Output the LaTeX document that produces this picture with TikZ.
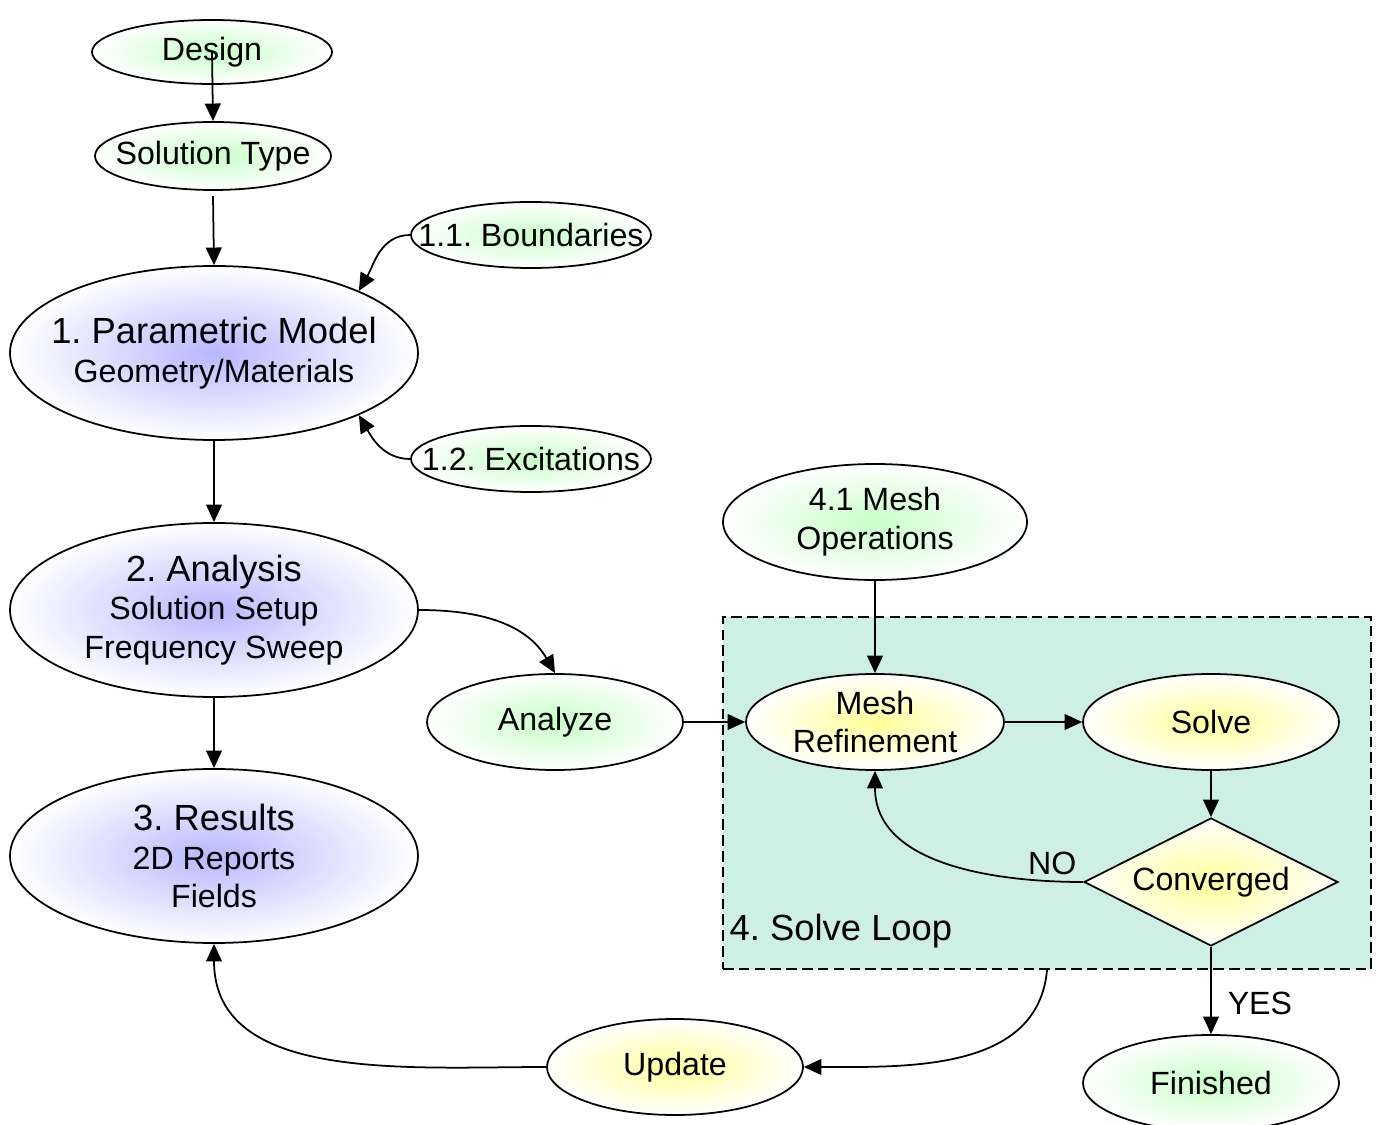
\documentclass[tikz,border=0pt]{standalone}
\usepackage{fontspec}
\setmainfont{Liberation Sans}
\usepackage{xcolor}
\usepackage{tikz}
\usetikzlibrary{shapes,arrows.meta}
\frenchspacing
\definecolor{loopfill}{RGB}{206,240,228}
\tikzset{ell/.style={ellipse,draw,inner xsep=-2cm,inner ysep=-0.6cm,shading=radial,outer color=white,align=center,font=\fontsize{18.3}{22}\selectfont}}
\tikzset{gell/.style={ell,inner color=green!22}}
\tikzset{yell/.style={ell,inner color=yellow!40}}
\tikzset{bell/.style={ell,inner color=blue!28,minimum width=8.16cm,minimum height=3.48cm}}
\tikzset{loopbox/.style={rectangle,draw,dash pattern=on 6pt off 3pt,fill=loopfill,minimum width=12.96cm,minimum height=7.04cm}}
\newcommand{\ttl}[1]{{\fontsize{20.7}{24}\selectfont #1}}

\begin{document}
\begin{tikzpicture}[>={Stealth[inset=0pt,length=10pt,width=9pt]},line width=1pt]
    \useasboundingbox (0,0) rectangle (27.54,22.48);
    \node[loopbox] (loop) at (20.94,6.62) {};
    \node[anchor=west,font=\fontsize{20.7}{24}\selectfont] (looplbl) at (14.46,3.86) {4. Solve Loop};

    \node[gell,minimum width=4.8cm,minimum height=1.28cm] (design) at (4.24,21.44) {Design};
    \node[gell,minimum width=4.72cm,minimum height=1.36cm] (soltype) at (4.26,19.36) {Solution Type};
    \node[gell,minimum width=4.8cm,minimum height=1.32cm] (bnd) at (10.62,17.78) {1.1. Boundaries};
    \node[bell] (pm) at (4.28,15.42) {\ttl{1. Parametric Model}\\Geometry/Materials};
    \node[gell,minimum width=4.8cm,minimum height=1.32cm] (exc) at (10.62,13.3) {1.2. Excitations};
    \node[bell] (ana) at (4.28,10.28) {\ttl{2. Analysis}\\Solution Setup\\Frequency Sweep};
    \node[bell] (res) at (4.28,5.36) {\ttl{3. Results}\\2D Reports\\Fields};

    \node[gell,minimum width=5.12cm,minimum height=1.92cm] (analyze) at (11.1,8.04) {Analyze};
    \node[gell,minimum width=6.08cm,minimum height=2.32cm] (meshop) at (17.5,12.04) {4.1 Mesh\\Operations};
    \node[yell,minimum width=5.16cm,minimum height=1.92cm] (meshref) at (17.5,8.04) {Mesh\\Refinement};
    \node[yell,minimum width=5.12cm,minimum height=1.92cm] (solve) at (24.22,8.04) {Solve};
    \node[yell,diamond,aspect=2,minimum width=5.08cm,minimum height=2.56cm] (conv) at (24.22,4.84) {Converged};
    \node[gell,minimum width=5.12cm,minimum height=1.92cm] (fin) at (24.22,0.82) {Finished};
    \node[yell,minimum width=5.12cm,minimum height=1.92cm] (upd) at (13.5,1.14) {Update};

    \draw [->] (design.center) to [] (soltype.north);
    \draw [->] ([yshift=-3pt]soltype.south) to [] (pm.north);
    \draw [->] (bnd.west) to [out=180,in=60] (pm.north east);
    \draw [->] (exc.west) to [out=180,in=-60] (pm.south east);
    \draw [->] (pm.south) to [] (ana.north);
    \draw [->] (ana.east) to [out=0,in=120] (analyze.north);
    \draw [->] (ana.south) to [] (res.north);
    \draw [->] (analyze.east) to [] (meshref.west);
    \draw [->] (meshop.south) to [] (meshref.north);
    \draw [->] (meshref.east) to [] (solve.west);
    \draw [->] (solve.south) to [] (conv.north);
    \draw [->] (conv.west) to [out=180,in=-90]node[pos=0,above left,font=\fontsize{18.3}{22}\selectfont]{NO} (meshref.south);
    \draw [->] (conv.south) to []node[pos=0.65,right,xshift=0.2cm,font=\fontsize{18.3}{22}\selectfont]{YES} (fin.north);
    \draw [->] (loop.south) to [out=-95,in=0] (upd.east);
    \draw [->] (upd.west) to [out=180,in=-90] (res.south);
\end{tikzpicture}
\end{document}
